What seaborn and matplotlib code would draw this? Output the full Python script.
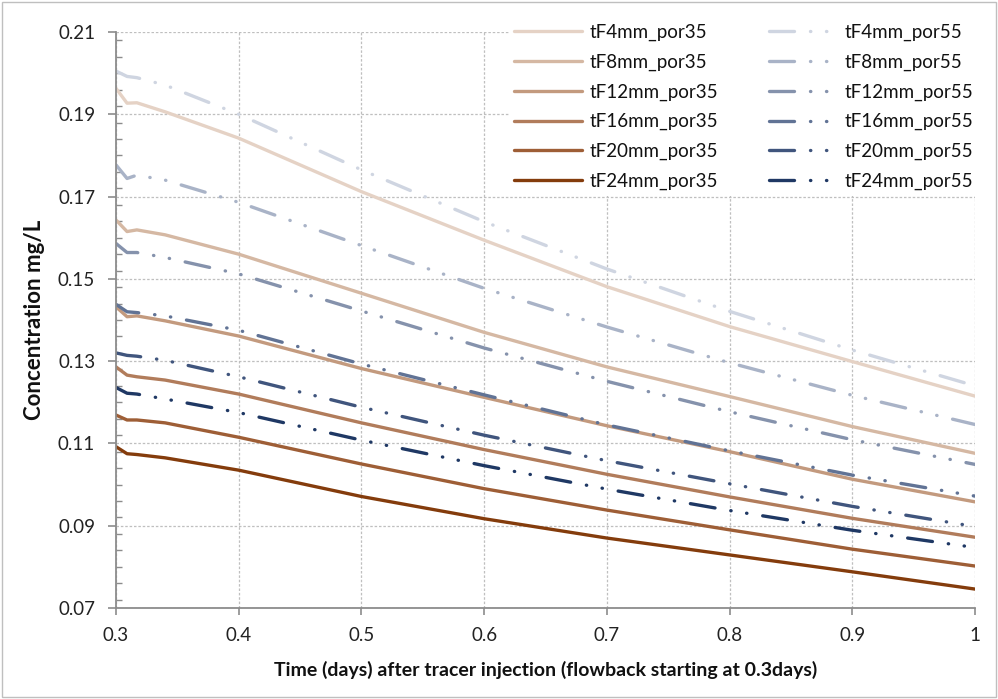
import numpy as np
import pandas as pd
import matplotlib
matplotlib.use("Agg")
import matplotlib.pyplot as plt
from matplotlib.ticker import MultipleLocator, FuncFormatter
from matplotlib.patches import Rectangle
import seaborn as sns

# ---------------- data ----------------
time_days = [0.30, 0.309, 0.317, 0.34, 0.40, 0.50, 0.60, 0.70, 0.80, 0.90, 1.00]

tF4mm_por35 = [0.1963, 0.1927, 0.1928, 0.1906, 0.1842, 0.1712, 0.1594, 0.1481, 0.1384, 0.1299, 0.1215]
tF8mm_por35 = [0.1643, 0.1615, 0.1619, 0.1607, 0.1560, 0.1465, 0.1370, 0.1286, 0.1214, 0.1141, 0.1076]
tF12mm_por35 = [0.1432, 0.1408, 0.1410, 0.1398, 0.1361, 0.1282, 0.1212, 0.1143, 0.1080, 0.1013, 0.0958]
tF16mm_por35 = [0.1286, 0.1266, 0.1262, 0.1254, 0.1220, 0.1150, 0.1085, 0.1025, 0.0970, 0.0918, 0.0872]
tF20mm_por35 = [0.1169, 0.1157, 0.1157, 0.1150, 0.1115, 0.1050, 0.0990, 0.0938, 0.0890, 0.0843, 0.0802]
tF24mm_por35 = [0.1092, 0.1075, 0.1073, 0.1065, 0.1035, 0.0971, 0.0917, 0.0870, 0.0829, 0.0788, 0.0746]

tF4mm_por55 = [0.2005, 0.1992, 0.1989, 0.1971, 0.1900, 0.1765, 0.1639, 0.1524, 0.1421, 0.1327, 0.1240]
tF8mm_por55 = [0.1777, 0.1744, 0.1752, 0.1740, 0.1686, 0.1581, 0.1477, 0.1383, 0.1296, 0.1217, 0.1146]
tF12mm_por55 = [0.1586, 0.1564, 0.1564, 0.1552, 0.1512, 0.1422, 0.1332, 0.1251, 0.1177, 0.1109, 0.1049]
tF16mm_por55 = [0.1438, 0.1420, 0.1418, 0.1410, 0.1375, 0.1293, 0.1218, 0.1145, 0.1082, 0.1023, 0.0972]
tF20mm_por55 = [0.1320, 0.1314, 0.1312, 0.1302, 0.1262, 0.1188, 0.1120, 0.1058, 0.1002, 0.0947, 0.0898]
tF24mm_por55 = [0.1236, 0.1222, 0.1220, 0.1208, 0.1175, 0.1108, 0.1046, 0.0989, 0.0937, 0.0889, 0.0847]

series_names = ["tF4mm_por35", "tF8mm_por35", "tF12mm_por35", "tF16mm_por35", "tF20mm_por35", "tF24mm_por35",
                "tF4mm_por55", "tF8mm_por55", "tF12mm_por55", "tF16mm_por55", "tF20mm_por55", "tF24mm_por55"]
series_values = [tF4mm_por35, tF8mm_por35, tF12mm_por35, tF16mm_por35, tF20mm_por35, tF24mm_por35,
                 tF4mm_por55, tF8mm_por55, tF12mm_por55, tF16mm_por55, tF20mm_por55, tF24mm_por55]

x_ticks = [0.3, 0.4, 0.5, 0.6, 0.7, 0.8, 0.9, 1.0]
y_ticks = [0.07, 0.09, 0.11, 0.13, 0.15, 0.17, 0.19, 0.21]

# ---------------- styles ----------------
colors = {
    "tF4mm_por35": "#E5D2C5", "tF8mm_por35": "#D5B8A3", "tF12mm_por35": "#C39A7E",
    "tF16mm_por35": "#B17C5B", "tF20mm_por35": "#9E5E36", "tF24mm_por35": "#843C0C",
    "tF4mm_por55": "#CFD5E1", "tF8mm_por55": "#A9B3C7", "tF12mm_por55": "#8592AC",
    "tF16mm_por55": "#617395", "tF20mm_por55": "#40557D", "tF24mm_por55": "#1F3864",
}
ddot = (7.5, 4.8, 0.1, 4.7, 0.1, 4.8)
dashes = {n: ("" if n.endswith("35") else ddot) for n in series_names}

rows = []
for name, vals in zip(series_names, series_values):
    for t, v in zip(time_days, vals):
        rows.append({"time": t, "conc": v, "series": name})
df = pd.DataFrame(rows)

sns.set_theme(style="white")
plt.rcParams["font.family"] = ["Lato", "DejaVu Sans"]

W, H = 998, 699
fig = plt.figure(figsize=(W / 100, H / 100), dpi=100)
ax = fig.add_axes([116 / W, 1 - 608 / H, (975 - 116) / W, (608 - 32) / H])

sns.lineplot(data=df, x="time", y="conc", hue="series", style="series",
             hue_order=series_names, style_order=series_names,
             palette=colors, dashes=dashes, linewidth=2.4, ax=ax,
             legend=False, sort=False, estimator=None)
for ln in ax.get_lines():
    ln.set_dash_capstyle("round")
    ln.set_solid_capstyle("round")
    ln.set_solid_joinstyle("round")
    ln.set_dash_joinstyle("round")

ax.set_xlim(0.3, 1.0)
ax.set_ylim(0.07, 0.21)
ax.set_xticks(x_ticks)
ax.set_yticks(y_ticks)
ax.yaxis.set_minor_locator(MultipleLocator(0.004))
ax.xaxis.set_major_formatter(FuncFormatter(lambda v, p: ("%g" % round(v, 2))))
ax.yaxis.set_major_formatter(FuncFormatter(lambda v, p: "%.2f" % v))

grid_kw = dict(color="#BFBFBF", linestyle=(0, (2.0, 1.5)), linewidth=0.9)
ax.grid(True, which="major", axis="both", **grid_kw)
ax.set_axisbelow(True)

for s in ["top", "right"]:
    ax.spines[s].set_visible(False)
for s in ["left", "bottom"]:
    ax.spines[s].set_color("#8C8C8C")
    ax.spines[s].set_linewidth(1.3)

ax.tick_params(axis="y", which="major", direction="out", length=6, width=1.2, color="#8C8C8C",
               labelsize=13.5, labelcolor="#222222", pad=9, left=True)
ax.tick_params(axis="y", which="minor", direction="in", length=4.5, width=1.0, color="#8C8C8C", left=True)
ax.tick_params(axis="x", which="major", direction="out", length=5, width=1.2, color="#8C8C8C",
               labelsize=13.5, labelcolor="#222222", pad=9, bottom=True)

ax.set_xlabel("Time (days) after tracer injection (flowback starting at 0.3days)",
              fontsize=14, fontweight="bold", color="#111111", labelpad=12)
ax.set_ylabel("Concentration mg/L", fontsize=16, fontweight="bold", color="#111111", labelpad=9)

handles = ax.get_lines()[:len(series_names)]
leg = ax.legend(handles, series_names, ncol=2, loc="upper right",
                bbox_to_anchor=(979 / W, 1 - 18 / H), bbox_transform=fig.transFigure,
                borderaxespad=0.0,
                frameon=True, framealpha=1.0, facecolor="white", edgecolor="white",
                fontsize=13.5, handlelength=3.6, handletextpad=0.42,
                columnspacing=2.72, labelspacing=0.67, borderpad=0.3)
leg.get_frame().set_linewidth(0)
for t in leg.get_texts():
    t.set_color("#111111")

fig.patches.append(Rectangle((2 / W, 2 / H), 1 - 4 / W, 1 - 4 / H, transform=fig.transFigure,
                             fill=False, edgecolor="#BFBFBF", linewidth=1.0))

fig.savefig("out.png", dpi=100)
